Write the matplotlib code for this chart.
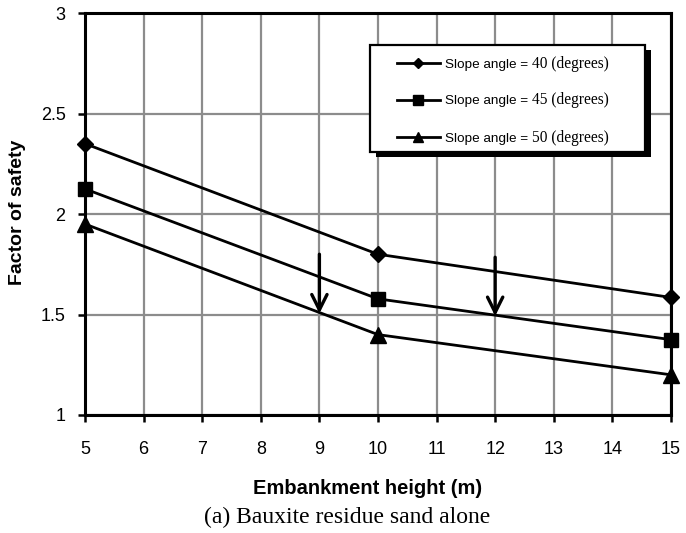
import matplotlib
matplotlib.use("Agg")
import matplotlib.pyplot as plt
from matplotlib.patches import Rectangle
from matplotlib.lines import Line2D

# embankment heights (m)
heights = [5, 10, 15]

# factor of safety for each slope angle
fos_40 = [2.35, 1.80, 1.585]
fos_45 = [2.125, 1.578, 1.375]
fos_50 = [1.95, 1.40, 1.20]

series_labels = ["40", "45", "50"]
series_markers = ["D", "s", "^"]

# arrows marking FoS = 1.5 crossings
arrow_x = [9, 12]
arrow_top = [1.80, 1.785]
arrow_tip = [1.505, 1.492]

x_ticks = list(range(5, 16))
y_ticks = [1, 1.5, 2, 2.5, 3]

SANS = "Liberation Sans"
SERIF = "Liberation Serif"


def main():
    fig = plt.figure(figsize=(6.86, 5.33), dpi=100)
    ax = fig.add_axes([0.124, 0.2214, 0.854, 0.754])

    ax.set_xlim(5, 15)
    ax.set_ylim(1, 3)
    ax.set_xticks(x_ticks)
    ax.set_yticks(y_ticks)
    ax.set_yticklabels(["1", "1.5", "2", "2.5", "3"])
    ax.grid(True, color="#8c8c8c", lw=1.6)
    ax.set_axisbelow(True)
    for s in ax.spines.values():
        s.set_linewidth(2.2)
        s.set_color("black")
        s.set_zorder(3)
    ax.tick_params(axis="both", direction="out", length=5, width=1.8,
                   labelsize=13)
    ax.tick_params(axis="x", pad=14)
    ax.tick_params(axis="y", pad=9)
    for lab in ax.get_xticklabels() + ax.get_yticklabels():
        lab.set_fontfamily(SANS)

    sizes = {"D": 8, "s": 9.5, "^": 11}
    for vals, m in zip([fos_40, fos_45, fos_50], series_markers):
        ax.plot(heights, vals, color="black", lw=2, marker=m, ms=sizes[m],
                clip_on=False, zorder=4)

    for x, y0, y1 in zip(arrow_x, arrow_top, arrow_tip):
        ax.annotate("", xy=(x, y1), xytext=(x, y0),
                    arrowprops=dict(arrowstyle="->,head_length=1.1,head_width=0.55",
                                    lw=2.4, color="black",
                                    shrinkA=0, shrinkB=0),
                    zorder=5)

    # legend drawn by hand (mixed fonts in each entry)
    bx0, bx1, by0, by1 = 0.4863, 0.9556, 0.654, 0.9204
    ax.add_patch(Rectangle((bx0 + 0.011, by0 - 0.013), bx1 - bx0, by1 - by0,
                           transform=ax.transAxes, facecolor="black",
                           edgecolor="none", zorder=6))
    ax.add_patch(Rectangle((bx0, by0), bx1 - bx0, by1 - by0,
                           transform=ax.transAxes, facecolor="white",
                           edgecolor="black", lw=1.6, zorder=7))
    rows = [0.8756, 0.7836, 0.6915]
    leg_ms = {"D": 5.5, "s": 6.5, "^": 7}
    for yy, lab, m in zip(rows, series_labels, series_markers):
        ax.add_line(Line2D([0.532, 0.606], [yy, yy], transform=ax.transAxes,
                           color="black", lw=2, zorder=8))
        ax.add_line(Line2D([0.568], [yy], transform=ax.transAxes,
                           color="black", marker=m, ms=leg_ms[m], zorder=8))
        base = yy - 0.011
        t1 = ax.text(0.614, base, "Slope angle = ", transform=ax.transAxes,
                     family=SANS, fontsize=9.7, va="baseline", ha="left",
                     zorder=8)
        ax.annotate(f"{lab} (degrees)", xy=(1, base),
                    xycoords=(t1, ax.transAxes),
                    va="baseline", ha="left", family=SERIF, fontsize=11.2,
                    zorder=8)

    fig.text(18 / 686, 1 - 212 / 533, "Factor of safety", family=SANS,
             fontsize=14, fontweight="bold", rotation=90,
             ha="center", va="center")
    fig.text(368 / 686, 1 - 488 / 533, "Embankment height (m)", family=SANS,
             fontsize=14.5, fontweight="bold", ha="center", va="center")
    fig.text(347 / 686, 1 - 517 / 533, "(a) Bauxite residue sand alone",
             family=SERIF, fontsize=17, ha="center", va="center")

    fig.savefig("out.png", dpi=100)
    plt.close(fig)


if __name__ == "__main__":
    main()
